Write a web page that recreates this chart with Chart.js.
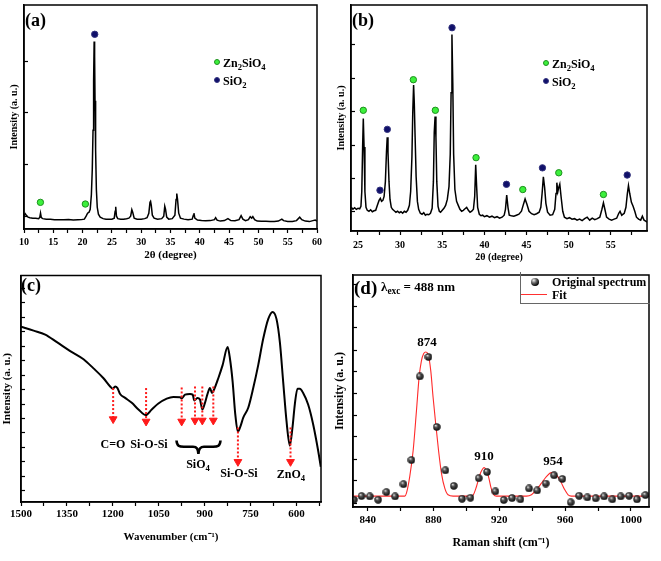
<!DOCTYPE html>
<html>
<head>
<meta charset="utf-8">
<title>Zn2SiO4 - XRD, FTIR and Raman</title>
<script src="https://cdn.jsdelivr.net/npm/chart.js@4.4.1/dist/chart.umd.min.js"></script>
<style>
  html, body { margin: 0; padding: 0; background: #fff; }
  #fig { position: relative; width: 661px; height: 561px; overflow: hidden; background: #fff;
         font-family: "Liberation Serif", "Times New Roman", serif; font-weight: bold; color: #000; }
  #fig canvas { position: absolute; }
  .lbl { position: absolute; white-space: nowrap; line-height: 1; }
  .lbl sub { font-size: 72%; vertical-align: -0.3em; line-height: 0; }
  .ctr { transform: translate(-50%, -50%); }
  .dot { position: absolute; width: 6px; height: 6px; border-radius: 50%; box-sizing: border-box; }
  .dot.zn { background: #3cf03c; border: 1px solid #1e8f1e; }
  .dot.si { background: #10106a; border: 1px solid #34347e; }
  .ball { position: absolute; width: 8px; height: 8px; border-radius: 50%;
          background: radial-gradient(circle at 35% 30%, #eee 0, #666 35%, #000 75%); }
  svg.over { position: absolute; left: 0; top: 0; pointer-events: none; }
</style>
</head>
<body>
<div id="fig">
  <canvas id="chartA" width="330" height="270" style="left:0;top:0"></canvas>
  <canvas id="chartB" width="331" height="270" style="left:330px;top:0"></canvas>
  <canvas id="chartC" width="330" height="291" style="left:0;top:270px"></canvas>
  <canvas id="chartD" width="331" height="291" style="left:330px;top:270px"></canvas>

  <!-- (a) -->
  <div class="lbl" style="left:25px;top:11px;font-size:18px">(a)</div>
  <span class="dot zn" style="left:214px;top:59px"></span>
  <div class="lbl" style="left:223px;top:57px;font-size:12px">Zn<sub>2</sub>SiO<sub>4</sub></div>
  <span class="dot si" style="left:214px;top:77px"></span>
  <div class="lbl" style="left:223px;top:75px;font-size:12px">SiO<sub>2</sub></div>

  <!-- (b) -->
  <div class="lbl" style="left:352px;top:11px;font-size:18px">(b)</div>
  <span class="dot zn" style="left:543px;top:60px"></span>
  <div class="lbl" style="left:552px;top:58px;font-size:12px">Zn<sub>2</sub>SiO<sub>4</sub></div>
  <span class="dot si" style="left:543px;top:78px"></span>
  <div class="lbl" style="left:552px;top:76px;font-size:12px">SiO<sub>2</sub></div>

  <!-- (c) -->
  <div class="lbl" style="left:21px;top:276px;font-size:18px">(c)</div>
  <div class="lbl ctr" style="left:113px;top:444px;font-size:12px">C=O</div>
  <div class="lbl ctr" style="left:149px;top:444px;font-size:12px">Si-O-Si</div>
  <div class="lbl ctr" style="left:198px;top:464px;font-size:12px">SiO<sub>4</sub></div>
  <div class="lbl ctr" style="left:239px;top:473px;font-size:12px">Si-O-Si</div>
  <div class="lbl ctr" style="left:291px;top:474px;font-size:12px">ZnO<sub>4</sub></div>
  <svg class="over" width="661" height="561">
    <path d="M176.5,440.5 C177,446 179,446.8 184,446.8 L193,446.8 C197,446.8 198,449 198.4,454 C198.8,449 200,446.8 204,446.8 L213,446.8 C218,446.8 220,446 220.5,440.5"
          fill="none" stroke="#000" stroke-width="2.6"/>
  </svg>

  <!-- (d) -->
  <div class="lbl" style="left:354px;top:278px;font-size:19px">(d)</div>
  <div class="lbl" style="left:381px;top:280px;font-size:13px">λ<sub>exc</sub> = 488 nm</div>
  <div style="position:absolute;left:520px;top:272px;width:129px;height:31px;border-left:1px solid #666;border-bottom:1px solid #666"></div>
  <span class="ball" style="left:531px;top:278px"></span>
  <div class="lbl" style="left:552px;top:276px;font-size:12px">Original spectrum</div>
  <div style="position:absolute;left:521px;top:294px;width:26px;border-top:1px solid #ff3030"></div>
  <div class="lbl" style="left:552px;top:289px;font-size:12px">Fit</div>
  <div class="lbl ctr" style="left:427px;top:341px;font-size:13px">874</div>
  <div class="lbl ctr" style="left:484px;top:455px;font-size:13px">910</div>
  <div class="lbl ctr" style="left:553px;top:460px;font-size:13px">954</div>
</div>

<script>
// ---------- (a) XRD, 10-60 deg ----------
const xrdA2Theta = [
  10.0, 10.2, 10.4, 10.7, 11.0, 11.5, 12.0, 12.5, 12.7, 12.82,
  12.95, 13.2, 13.8, 14.5, 15.2, 16.0, 16.8, 17.6, 18.4, 19.2,
  19.8, 20.3, 20.6, 20.85, 21.1, 21.3, 21.5, 21.65, 21.78, 21.88,
  21.97, 22.05, 22.12, 22.22, 22.35, 22.5, 22.7, 23.0, 23.5, 24.0,
  24.5, 25.0, 25.4, 25.55, 25.65, 25.78, 26.0, 26.5, 27.0, 27.5,
  27.9, 28.2, 28.4, 28.55, 28.8, 29.3, 30.0, 30.6, 31.0, 31.3,
  31.5, 31.6, 31.72, 31.9, 32.2, 32.8, 33.5, 33.85, 34.02, 34.15,
  34.35, 34.7, 35.3, 35.75, 35.95, 36.07, 36.2, 36.4, 36.7, 37.3,
  38.0, 38.7, 38.9, 39.0, 39.15, 39.6, 40.3, 41.0, 41.8, 42.5,
  42.7, 42.95, 43.5, 44.2, 44.8, 45.3, 46.0, 46.7, 47.05, 47.35,
  47.8, 48.3, 48.6, 48.85, 49.05, 49.35, 49.8, 50.5, 51.3, 52.0,
  52.7, 53.4, 54.0, 54.3, 55.0, 55.8, 56.5, 57.05, 57.4, 58.0,
  58.7, 59.3, 59.7, 60.0
];
const xrdAIntensity = [
  13, 15.5, 14, 12, 11.5, 11, 11, 10.5, 12, 16,
  11.5, 10.5, 10, 10, 9.5, 9.5, 9.3, 9.5, 9, 9.3,
  9.5, 10, 13, 16, 17, 20, 35, 60, 100, 150,
  190, 175, 130, 80, 40, 22, 15, 12, 10.5, 10,
  10, 10, 11, 18, 22.5, 13, 10.5, 10, 10, 10.5,
  11, 13, 19.5, 17, 11, 10, 10, 10.5, 11.5, 16,
  27, 28, 24, 14, 11, 10, 10.5, 13, 23, 20,
  12, 10, 10.5, 14, 30, 36, 30, 16, 11, 10,
  9.5, 10, 14, 16, 11, 9, 8.5, 8.3, 8.5, 9.5,
  11.5, 9, 8, 8.5, 10.5, 8.5, 8.3, 9.5, 13.5, 10,
  8.5, 9.5, 12.5, 11, 12.5, 9.5, 8, 7.8, 7.8, 7.5,
  7.5, 8, 10, 8.5, 7.5, 7.5, 8.5, 12, 9.5, 8,
  7.5, 8.5, 9, 8
];
const markAZnX = [12.8, 20.47];
const markAZnY = [27, 25.3];
const markASiX = [22.07];
const markASiY = [197.3];
const ticksAX = [10, 12.5, 15, 17.5, 20, 22.5, 25, 27.5, 30, 32.5, 35, 37.5, 40, 42.5, 45, 47.5, 50, 52.5, 55, 57.5, 60];
const labelsAX = [10, 15, 20, 25, 30, 35, 40, 45, 50, 55, 60];
const ticksAY = [13, 65.3, 117.6, 170];

// ---------- (b) XRD, 24-59 deg ----------
const xrdB2Theta = [
  24.2, 24.4, 24.6, 24.8, 25.0, 25.2, 25.35, 25.45, 25.55, 25.63,
  25.72, 25.82, 25.95, 26.1, 26.3, 26.5, 26.7, 26.9, 27.1, 27.3,
  27.5, 27.65, 27.8, 27.95, 28.1, 28.25, 28.38, 28.47, 28.56, 28.68,
  28.8, 28.95, 29.1, 29.3, 29.5, 29.7, 29.9, 30.1, 30.3, 30.5,
  30.7, 30.9, 31.1, 31.25, 31.4, 31.5, 31.6, 31.68, 31.78, 31.9,
  32.05, 32.2, 32.4, 32.6, 32.8, 33.0, 33.2, 33.4, 33.6, 33.8,
  33.95, 34.05, 34.15, 34.25, 34.35, 34.5, 34.65, 34.8, 35.0, 35.2,
  35.4, 35.6, 35.8, 35.95, 36.05, 36.15, 36.25, 36.35, 36.5, 36.7,
  36.9, 37.1, 37.3, 37.5, 37.7, 37.9, 38.1, 38.3, 38.5, 38.7,
  38.85, 38.97, 39.08, 39.2, 39.4, 39.6, 39.8, 40.0, 40.3, 40.6,
  40.9, 41.2, 41.5, 41.8, 42.1, 42.35, 42.5, 42.65, 42.8, 42.95,
  43.2, 43.5, 43.8, 44.1, 44.4, 44.6, 44.83, 45.05, 45.3, 45.6,
  45.9, 46.2, 46.5, 46.7, 46.85, 47.0, 47.15, 47.3, 47.5, 47.8,
  48.1, 48.35, 48.5, 48.6, 48.72, 48.82, 48.95, 49.1, 49.3, 49.5,
  49.8, 50.1, 50.4, 50.7, 51.0, 51.3, 51.6, 51.9, 52.2, 52.5,
  52.8, 53.1, 53.4, 53.7, 53.95, 54.13, 54.3, 54.5, 54.8, 55.1,
  55.4, 55.7, 55.95, 56.1, 56.3, 56.6, 56.8, 56.97, 57.1, 57.25,
  57.45, 57.65, 57.85, 58.05, 58.3, 58.55, 58.75, 58.95, 59.15, 59.3
];
const xrdBIntensity = [
  24, 22, 23.5, 22, 23, 22.5, 25, 40, 85, 114,
  85, 40, 24, 21, 20, 21.5, 19.5, 20.5, 21, 26,
  31, 33, 30, 31, 35, 50, 80, 95, 80, 50,
  32, 24, 22, 20.5, 19, 20, 18.5, 19.5, 18, 20,
  19, 21, 26, 40, 75, 120, 148, 130, 95, 55,
  30, 22, 18, 17, 18.5, 16, 17, 16.5, 18, 23,
  50, 100, 116, 95, 50, 25, 20, 19, 21, 23,
  26, 32, 45, 78, 140, 199, 150, 78, 42, 30,
  26, 22, 20, 21, 22.5, 24, 21, 19, 20, 22,
  35, 67, 45, 24, 17, 15.5, 16, 14.5, 15.5, 14,
  15, 13.5, 14.5, 13, 14, 16, 22, 36.5, 24, 16,
  15.5, 15, 16, 17, 20, 26, 32.5, 27, 20, 17.5,
  16.5, 17.5, 19, 24, 38, 55, 44, 28, 19, 16,
  16.5, 22, 38, 49, 40, 44, 47.5, 35, 20, 14,
  12.5, 13.5, 12, 12.5, 11, 12, 10.5, 12.5, 14, 11,
  13, 11.5, 12.5, 14, 22, 28.5, 22, 14, 12, 11,
  12, 13, 18, 20, 16, 18, 24, 38, 46, 38,
  29, 25, 20, 14, 12, 11, 15, 11, 10, 9
];
const markBZnX = [25.63, 31.57, 34.18, 39.01, 44.56, 48.83, 54.13];
const markBZnY = [122.3, 153.3, 122.3, 74.3, 42, 59, 37];
const markBSiX = [27.61, 28.48, 36.16, 42.62, 46.89, 56.95];
const markBSiY = [41.3, 103, 206, 47.3, 64, 56.7];
const ticksBX = [25, 27.5, 30, 32.5, 35, 37.5, 40, 42.5, 45, 47.5, 50, 52.5, 55, 57.5];
const labelsBX = [25, 30, 35, 40, 45, 50, 55];
const ticksBY = [19.5, 53.3, 87, 121, 155, 189.3];

// ---------- (c) FTIR ----------
const ftirWn = [
  1500, 1458.8, 1420.8, 1382.7, 1339.2, 1295.7, 1263.1, 1230.5, 1208.8, 1200.1,
  1192.5, 1184.9, 1176.2, 1159.9, 1138.1, 1116.4, 1092.5, 1072.9, 1051.2, 1024,
  1002.3, 980.5, 975.1, 964.2, 947.9, 939.2, 933.8, 924, 915.3, 907.7,
  899, 891.4, 882.7, 876.2, 869.6, 855.5, 841.4, 825, 817.5, 808.7,
  800, 791.4, 782.6, 774, 757.7, 741.4, 725.1, 708.8, 692.5, 678.3,
  665.3, 654.4, 643.6, 632.7, 621.8, 613.1, 605.6, 596.8, 589.2, 578.3,
  562, 545.7, 529.4, 520.7
];
const ftirSignal = [
  178, 174, 170, 162.3, 153.3, 145, 135.7, 125.7, 117.3, 115,
  117.3, 115.7, 109.7, 105.7, 100.7, 94, 88.3, 94, 100, 105,
  106.7, 106.3, 105, 109, 109.7, 109, 103, 105.7, 104, 94,
  100.7, 109, 115.7, 110.7, 114, 125.7, 139, 157.3, 145.7, 122.3,
  89, 71.3, 77.3, 85.7, 95.7, 115.7, 139, 165.7, 185.7, 193,
  185.7, 162.3, 122.3, 82.3, 57.3, 75.7, 99, 115, 115, 110.7,
  99, 79, 52.3, 35.7
];
const arrowWn  = [1199, 1091.4, 975.1, 931.6, 907.7, 871.8, 791.4, 619.6];
const arrowTop = [115.7, 115.7, 116.3, 117.3, 117.3, 117.3, 75.7, 75.7];
const arrowTip = [79.7, 77.3, 77.3, 78.3, 78.3, 78.3, 36.3, 36.3];
const ticksCX = [1500, 1425, 1350, 1275, 1200, 1125, 1050, 975, 900, 825, 750, 675, 600, 525];
const labelsCX = [1500, 1350, 1200, 1050, 900, 750, 600];
const ticksCY = [11.6, 26.3, 40.9, 55.6, 70.2, 84.9, 99.5, 114.2, 128.8, 143.5, 158.1, 172.8, 187.4, 202.1, 216.7];

// ---------- (d) Raman ----------
const ramanShift = [
  831.5, 836.2, 841.2, 846.3, 851.3, 856.6, 861.7, 866.5, 871.6, 876.9,
  881.9, 887.2, 892.3, 897.3, 902.4, 907.5, 912.5, 917.6, 922.7, 927.7,
  932.8, 938.1, 943, 948.2, 953.3, 958.3, 963.4, 968.5, 973.5, 978.6,
  983.7, 988.7, 993.8, 998.9, 1003.7, 1008.8
];
const ramanCounts = [
  7.3, 11, 10.7, 7.3, 15, 10.7, 23, 47.3, 131.7, 151.3,
  80.7, 37, 21.3, 8.3, 9.3, 29, 35.3, 15.7, 7, 9,
  7.7, 18.7, 16.7, 23.7, 32, 28.3, 4.7, 11.3, 9.7, 8.7,
  10.7, 7.7, 10.7, 11.3, 7.7, 12
];
const fitShift = [
  831, 862.5, 863.5, 865.5, 867.6, 869.6, 871.2, 872.6, 874.0, 875.3,
  876.7, 878.3, 879.7, 881.3, 883, 884.8, 886.8, 888.8, 891.9, 902,
  904, 906.1, 908.1, 909.7, 910.7, 911.7, 913.4, 915, 916.6, 918.2,
  936.5, 939.5, 942.5, 945.6, 948.6, 951.7, 954.7, 957.3, 959.8, 961.8,
  963.8, 1011
];
const fitCounts = [
  11, 11, 14, 30.7, 57.3, 97.3, 130.7, 147.3, 154.7, 156.3,
  154, 137.3, 110.7, 84, 57.3, 34, 19, 12.3, 11, 11,
  12, 20.7, 32.3, 38, 39.7, 38, 30.7, 19, 12.3, 11,
  11, 12.3, 17.3, 24, 30.7, 34.7, 32.3, 25.7, 17.3, 12.3,
  11, 11
];
const ticksDX = [840, 860, 880, 900, 920, 940, 960, 980, 1000];
const labelsDX = [840, 880, 920, 960, 1000];
const ticksDY = [4, 26.3, 48.3, 70.7, 92.3, 114.7, 136.3, 158, 180.7, 202.3, 224];

// ---------- helpers ----------
Chart.defaults.font.family = '"Liberation Serif", "Times New Roman", serif';
Chart.defaults.font.weight = 'bold';
Chart.defaults.color = '#000';

function pts(xs, ys) { return xs.map((x, i) => ({ x: x, y: ys[i] })); }

// box round the plot area
const framePlugin = {
  id: 'frame',
  afterDraw(chart) {
    const a = chart.chartArea, ctx = chart.ctx;
    ctx.save();
    ctx.strokeStyle = '#000';
    ctx.lineWidth = 1.5;
    ctx.strokeRect(a.left, a.top, a.right - a.left, a.bottom - a.top);
    ctx.restore();
  }
};

function sphere(d) {
  const c = document.createElement('canvas');
  c.width = c.height = d;
  const g = c.getContext('2d'), r = d / 2;
  const grad = g.createRadialGradient(r * 0.7, r * 0.6, 0.2, r, r, r);
  grad.addColorStop(0, '#eeeeee');
  grad.addColorStop(0.35, '#555555');
  grad.addColorStop(1, '#000000');
  g.fillStyle = grad;
  g.beginPath(); g.arc(r, r, r - 0.3, 0, Math.PI * 2); g.fill();
  return c;
}

function panelOptions(cfg) {
  return {
    responsive: false,
    maintainAspectRatio: false,
    animation: false,
    events: [],
    layout: { padding: { left: 0, right: cfg.padRight, top: cfg.padTop, bottom: 0 } },
    plugins: { legend: { display: false }, tooltip: { enabled: false } },
    scales: {
      x: {
        type: 'linear', min: cfg.xMin, max: cfg.xMax, reverse: !!cfg.reverse,
        afterFit: s => { s.height = cfg.xAxisHeight; },
        afterBuildTicks: s => { s.ticks = cfg.xTicks.map(v => ({ value: v })); },
        ticks: {
          autoSkip: false, maxRotation: 0, minRotation: 0, padding: cfg.tickPad,
          font: { size: cfg.tickSize, weight: 'bold' },
          callback: v => cfg.xLabels.indexOf(v) >= 0 ? String(v) : ''
        },
        grid: { drawOnChartArea: false, tickLength: 4, tickWidth: 1.2, tickColor: '#000' },
        border: { color: '#000', width: 1.5 },
        title: { display: true, text: cfg.xTitle, font: { size: cfg.xTitleSize, weight: 'bold' },
                 padding: { top: 0, bottom: cfg.xTitlePad } }
      },
      y: {
        type: 'linear', min: 0, max: cfg.yMax,
        afterFit: s => { s.width = cfg.yAxisWidth; },
        afterBuildTicks: s => { s.ticks = cfg.yTicks.map(v => ({ value: v })); },
        ticks: { display: false },
        grid: { drawOnChartArea: false, tickLength: -4, tickWidth: 1.2, tickColor: '#000' },
        border: { color: '#000', width: 1.5 },
        title: { display: true, text: 'Intensity (a. u.)', font: { size: cfg.yTitleSize, weight: 'bold' },
                 padding: { top: cfg.yTitlePad, bottom: 0 } }
      }
    }
  };
}

function markerSet(xs, ys, fill, edge) {
  return {
    data: pts(xs, ys), showLine: false, order: 0,
    pointRadius: 3.2, pointBackgroundColor: fill, pointBorderColor: edge, pointBorderWidth: 1
  };
}

function traceSet(xs, ys, width) {
  return {
    data: pts(xs, ys), borderColor: '#000', borderWidth: width, pointRadius: 0, tension: 0, order: 2
  };
}

const ZN_FILL = '#3cf03c', ZN_EDGE = '#1e8f1e', SI_FILL = '#10106a', SI_EDGE = '#34347e';

// (a)
new Chart(document.getElementById('chartA'), {
  type: 'line',
  data: { datasets: [
    traceSet(xrdA2Theta, xrdAIntensity, 1.5),
    markerSet(markAZnX, markAZnY, ZN_FILL, ZN_EDGE),
    markerSet(markASiX, markASiY, SI_FILL, SI_EDGE)
  ] },
  options: panelOptions({
    xMin: 10, xMax: 60, xTicks: ticksAX, xLabels: labelsAX, yMax: 227, yTicks: ticksAY,
    padRight: 13, padTop: 2, xAxisHeight: 41, yAxisWidth: 24, tickPad: 3, tickSize: 10,
    xTitle: '2θ (degree)', xTitleSize: 11, xTitlePad: 8, yTitleSize: 10, yTitlePad: 8
  }),
  plugins: [framePlugin]
});

// (b)
new Chart(document.getElementById('chartB'), {
  type: 'line',
  data: { datasets: [
    traceSet(xrdB2Theta, xrdBIntensity, 1.5),
    markerSet(markBZnX, markBZnY, ZN_FILL, ZN_EDGE),
    markerSet(markBSiX, markBSiY, SI_FILL, SI_EDGE)
  ] },
  options: panelOptions({
    xMin: 24.17, xMax: 59.3, xTicks: ticksBX, xLabels: labelsBX, yMax: 229, yTicks: ticksBY,
    padRight: 14, padTop: 2, xAxisHeight: 39, yAxisWidth: 21, tickPad: 4, tickSize: 10,
    xTitle: '2θ (degree)', xTitleSize: 10, xTitlePad: 7, yTitleSize: 10, yTitlePad: 5
  }),
  plugins: [framePlugin]
});

// (c)
const ftirSets = [{
  data: pts(ftirWn, ftirSignal), borderColor: '#000', borderWidth: 2, pointRadius: 0,
  cubicInterpolationMode: 'monotone', order: 2
}];
arrowWn.forEach((wn, i) => {
  ftirSets.push({
    data: [{ x: wn, y: arrowTop[i] }, { x: wn, y: arrowTip[i] + 4.5 }],
    borderColor: '#ff1a1a', borderWidth: 2, borderDash: [2, 2], order: 1,
    pointRadius: [0, 4.5], pointStyle: 'triangle', pointRotation: 180,
    pointBackgroundColor: '#ff1a1a', pointBorderColor: '#ff1a1a', pointBorderWidth: 1
  });
});
new Chart(document.getElementById('chartC'), {
  type: 'line',
  data: { datasets: ftirSets },
  options: panelOptions({
    xMin: 520, xMax: 1500, reverse: true, xTicks: ticksCX, xLabels: labelsCX, yMax: 230, yTicks: ticksCY,
    padRight: 9, padTop: 2, xAxisHeight: 59, yAxisWidth: 21, tickPad: 2, tickSize: 11,
    xTitle: 'Wavenumber (cm\u207B\u00B9)', xTitleSize: 11, xTitlePad: 17, yTitleSize: 11, yTitlePad: 1
  }),
  plugins: [framePlugin]
});

// (d)
new Chart(document.getElementById('chartD'), {
  type: 'line',
  data: { datasets: [
    { data: pts(ramanShift, ramanCounts), showLine: false, order: 0,
      pointStyle: sphere(8), pointRadius: 4 },
    { data: pts(fitShift, fitCounts), borderColor: '#ff2a2a', borderWidth: 1.1, pointRadius: 0,
      cubicInterpolationMode: 'monotone', order: 1 }
  ] },
  options: panelOptions({
    xMin: 831, xMax: 1011, xTicks: ticksDX, xLabels: labelsDX, yMax: 234, yTicks: ticksDY,
    padRight: 12, padTop: 3, xAxisHeight: 54, yAxisWidth: 23, tickPad: 3, tickSize: 11,
    xTitle: 'Raman shift (cm\u207B\u00B9)', xTitleSize: 12, xTitlePad: 11, yTitleSize: 12, yTitlePad: 3
  }),
  plugins: [framePlugin]
});
</script>
</body>
</html>
